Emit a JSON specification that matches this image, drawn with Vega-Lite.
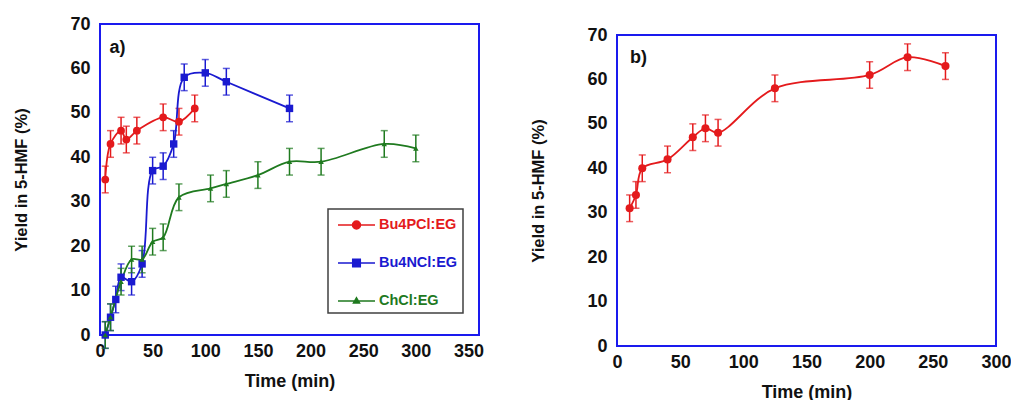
{
  "$schema": "https://vega.github.io/schema/vega-lite/v6.json",
  "background": "white",
  "padding": {"left": 12, "top": 14, "right": 0, "bottom": 0},
  "config": {
    "font": "Liberation Sans",
    "view": {"stroke": "#1a1aee", "strokeWidth": 2},
    "axis": {"grid": false, "domain": false, "ticks": false, "tickSize": 0, "labelFlush": false, "labelFont": "Liberation Sans", "labelFontSize": 18, "labelFontWeight": "bold", "labelColor": "#111111", "titleFont": "Liberation Sans", "titleFontSize": 18, "titleFontWeight": "bold", "titleColor": "#111111"},
    "axisX": {"labelPadding": 7, "titlePadding": 12},
    "axisY": {"labelPadding": 10, "titlePadding": 40, "titleFontSize": 16.5}
  },
  "datasets": {
    "a": [
      {"series": "Bu4PCl:EG", "time": 5, "yield": 35, "err": 3},
      {"series": "Bu4PCl:EG", "time": 10, "yield": 43, "err": 3},
      {"series": "Bu4PCl:EG", "time": 20, "yield": 46, "err": 3},
      {"series": "Bu4PCl:EG", "time": 25, "yield": 44, "err": 3},
      {"series": "Bu4PCl:EG", "time": 35, "yield": 46, "err": 3},
      {"series": "Bu4PCl:EG", "time": 60, "yield": 49, "err": 3},
      {"series": "Bu4PCl:EG", "time": 75, "yield": 48, "err": 3},
      {"series": "Bu4PCl:EG", "time": 90, "yield": 51, "err": 3},
      {"series": "Bu4NCl:EG", "time": 5, "yield": 0, "err": 3},
      {"series": "Bu4NCl:EG", "time": 10, "yield": 4, "err": 3},
      {"series": "Bu4NCl:EG", "time": 15, "yield": 8, "err": 3},
      {"series": "Bu4NCl:EG", "time": 20, "yield": 13, "err": 3},
      {"series": "Bu4NCl:EG", "time": 30, "yield": 12, "err": 3},
      {"series": "Bu4NCl:EG", "time": 40, "yield": 16, "err": 3},
      {"series": "Bu4NCl:EG", "time": 50, "yield": 37, "err": 3},
      {"series": "Bu4NCl:EG", "time": 60, "yield": 38, "err": 3},
      {"series": "Bu4NCl:EG", "time": 70, "yield": 43, "err": 3},
      {"series": "Bu4NCl:EG", "time": 80, "yield": 58, "err": 3},
      {"series": "Bu4NCl:EG", "time": 100, "yield": 59, "err": 3},
      {"series": "Bu4NCl:EG", "time": 120, "yield": 57, "err": 3},
      {"series": "Bu4NCl:EG", "time": 180, "yield": 51, "err": 3},
      {"series": "ChCl:EG", "time": 5, "yield": 0, "err": 3},
      {"series": "ChCl:EG", "time": 10, "yield": 4, "err": 3},
      {"series": "ChCl:EG", "time": 20, "yield": 12, "err": 3},
      {"series": "ChCl:EG", "time": 30, "yield": 17, "err": 3},
      {"series": "ChCl:EG", "time": 40, "yield": 17, "err": 3},
      {"series": "ChCl:EG", "time": 50, "yield": 21, "err": 3},
      {"series": "ChCl:EG", "time": 60, "yield": 22, "err": 3},
      {"series": "ChCl:EG", "time": 75, "yield": 31, "err": 3},
      {"series": "ChCl:EG", "time": 105, "yield": 33, "err": 3},
      {"series": "ChCl:EG", "time": 120, "yield": 34, "err": 3},
      {"series": "ChCl:EG", "time": 150, "yield": 36, "err": 3},
      {"series": "ChCl:EG", "time": 180, "yield": 39, "err": 3},
      {"series": "ChCl:EG", "time": 210, "yield": 39, "err": 3},
      {"series": "ChCl:EG", "time": 270, "yield": 43, "err": 3},
      {"series": "ChCl:EG", "time": 300, "yield": 42, "err": 3}
    ],
    "b": [
      {"time": 10, "yield": 31, "err": 3},
      {"time": 15, "yield": 34, "err": 3},
      {"time": 20, "yield": 40, "err": 3},
      {"time": 40, "yield": 42, "err": 3},
      {"time": 60, "yield": 47, "err": 3},
      {"time": 70, "yield": 49, "err": 3},
      {"time": 80, "yield": 48, "err": 3},
      {"time": 125, "yield": 58, "err": 3},
      {"time": 200, "yield": 61, "err": 3},
      {"time": 230, "yield": 65, "err": 3},
      {"time": 260, "yield": 63, "err": 3}
    ]
  },
  "spacing": 44,
  "hconcat": [
    {
      "width": 379,
      "height": 311,
      "layer": [
        {
          "data": {"name": "a"},
          "mark": {"type": "errorbar", "ticks": {"size": 7, "thickness": 1.5}, "thickness": 1.5},
          "encoding": {
            "x": {"field": "time", "type": "quantitative", "scale": {"domain": [0, 360], "nice": false}, "axis": {"values": [0, 50, 100, 150, 200, 250, 300, 350], "title": "Time (min)"}},
            "y": {"field": "yield", "type": "quantitative", "scale": {"domain": [0, 70], "nice": false}, "axis": {"values": [0, 10, 20, 30, 40, 50, 60, 70], "title": "Yield in 5-HMF (%)"}},
            "yError": {"field": "err"},
            "color": {"field": "series", "type": "nominal", "scale": {"domain": ["Bu4PCl:EG", "Bu4NCl:EG", "ChCl:EG"], "range": ["#e41a1c", "#1a1ad0", "#1f7a1f"]}}
          }
        },
        {
          "data": {"name": "a"},
          "mark": {"type": "line", "interpolate": "catmull-rom", "strokeWidth": 1.8},
          "encoding": {
            "x": {"field": "time", "type": "quantitative"},
            "y": {"field": "yield", "type": "quantitative"},
            "color": {"field": "series", "type": "nominal"}
          }
        },
        {
          "data": {"name": "a"},
          "transform": [{"filter": "datum.series == 'Bu4PCl:EG'"}],
          "mark": {"type": "point", "filled": true, "opacity": 1, "shape": "circle", "size": 60},
          "encoding": {
            "x": {"field": "time", "type": "quantitative"},
            "y": {"field": "yield", "type": "quantitative"},
            "color": {"field": "series", "type": "nominal"}
          }
        },
        {
          "data": {"name": "a"},
          "transform": [{"filter": "datum.series == 'Bu4NCl:EG'"}],
          "mark": {"type": "point", "filled": true, "opacity": 1, "shape": "square", "size": 55},
          "encoding": {
            "x": {"field": "time", "type": "quantitative"},
            "y": {"field": "yield", "type": "quantitative"},
            "color": {"field": "series", "type": "nominal"}
          }
        },
        {
          "data": {"name": "a"},
          "transform": [{"filter": "datum.series == 'ChCl:EG'"}],
          "mark": {"type": "point", "filled": true, "opacity": 1, "shape": "triangle-up", "size": 30},
          "encoding": {
            "x": {"field": "time", "type": "quantitative"},
            "y": {"field": "yield", "type": "quantitative"},
            "color": {"field": "series", "type": "nominal"}
          }
        },
        {
          "data": {"name": "a"},
          "mark": {"type": "point", "filled": true, "opacity": 0},
          "encoding": {
            "x": {"field": "time", "type": "quantitative"},
            "y": {"field": "yield", "type": "quantitative"},
            "color": {
              "field": "series", "type": "nominal",
              "legend": {
                "orient": "none", "legendX": 228, "legendY": 185, "title": null,
                "padding": 5, "strokeColor": "#404040", "fillColor": "white",
                "symbolSize": 400, "symbolOffset": 12.5, "labelOffset": 11.5, "rowPadding": 20,
                "symbolOpacity": 1, "symbolStrokeWidth": 1.5,
                "labelFont": "Liberation Sans", "labelFontSize": 14.5, "labelFontWeight": "bold",
                "encode": {
                  "legend": {"update": {"strokeWidth": {"value": 1.5}}},
                  "labels": {"update": {
                    "fill": {"signal": "datum.value == 'Bu4PCl:EG' ? '#e41a1c' : datum.value == 'Bu4NCl:EG' ? '#1a1ad0' : '#1f7a1f'"}
                  }}
                }
              }
            },
            "stroke": {"field": "series", "type": "nominal", "scale": {"domain": ["Bu4PCl:EG", "Bu4NCl:EG", "ChCl:EG"], "range": ["#e41a1c", "#1a1ad0", "#1f7a1f"]}},
            "shape": {"field": "series", "type": "nominal", "scale": {"domain": ["Bu4PCl:EG", "Bu4NCl:EG", "ChCl:EG"], "range": ["M-1.85,0H1.85M-0.4,0A0.4,0.4,0,1,0,0.4,0A0.4,0.4,0,1,0,-0.4,0Z", "M-1.85,0H1.85M-0.38,-0.38H0.38V0.38H-0.38Z", "M-1.85,0H1.85M0,-0.32L0.3,0.2H-0.3Z"]}}
          }
        },
        {
          "data": {"values": [{"label": "a)"}]},
          "mark": {"type": "text", "align": "left", "baseline": "middle", "fontSize": 18, "fontWeight": "bold", "color": "#111111"},
          "encoding": {
            "x": {"datum": 9, "type": "quantitative"},
            "y": {"datum": 64.6, "type": "quantitative"},
            "text": {"field": "label"}
          }
        }
      ]
    },
    {
      "spacing": 0,
      "vconcat": [
        {
          "width": 379,
          "height": 1,
          "view": {"stroke": null},
          "data": {"values": []},
          "mark": {"type": "text"},
          "encoding": {}
        },
        {
          "width": 379,
          "height": 311,
          "layer": [
            {
              "data": {"name": "b"},
              "mark": {"type": "errorbar", "ticks": {"size": 7, "thickness": 1.5}, "thickness": 1.5, "color": "#e41a1c"},
              "encoding": {
                "x": {"field": "time", "type": "quantitative", "scale": {"domain": [0, 300], "nice": false}, "axis": {"values": [0, 50, 100, 150, 200, 250, 300], "title": "Time (min)"}},
                "y": {"field": "yield", "type": "quantitative", "scale": {"domain": [0, 70], "nice": false}, "axis": {"values": [0, 10, 20, 30, 40, 50, 60, 70], "title": "Yield in 5-HMF (%)"}},
                "yError": {"field": "err"}
              }
            },
            {
              "data": {"name": "b"},
              "mark": {"type": "line", "interpolate": "catmull-rom", "strokeWidth": 1.8, "color": "#e41a1c"},
              "encoding": {
                "x": {"field": "time", "type": "quantitative"},
                "y": {"field": "yield", "type": "quantitative"}
              }
            },
            {
              "data": {"name": "b"},
              "mark": {"type": "point", "filled": true, "opacity": 1, "shape": "circle", "size": 65, "color": "#e41a1c"},
              "encoding": {
                "x": {"field": "time", "type": "quantitative"},
                "y": {"field": "yield", "type": "quantitative"}
              }
            },
            {
              "data": {"values": [{"label": "b)"}]},
              "mark": {"type": "text", "align": "left", "baseline": "middle", "fontSize": 18, "fontWeight": "bold", "color": "#111111"},
              "encoding": {
                "x": {"datum": 10.3, "type": "quantitative"},
                "y": {"datum": 64.9, "type": "quantitative"},
                "text": {"field": "label"}
              }
            }
          ]
        }
      ]
    }
  ]
}
